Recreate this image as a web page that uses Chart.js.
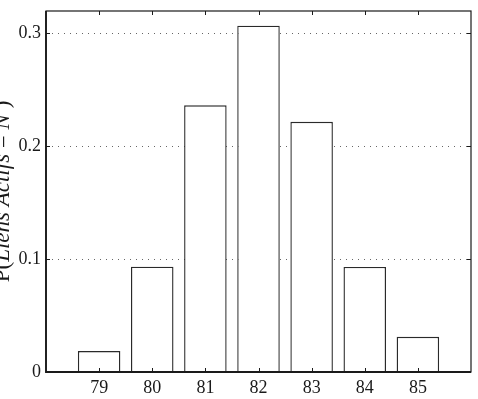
<!DOCTYPE html>
<html>
<head>
<meta charset="utf-8">
<script src="https://cdn.jsdelivr.net/npm/chart.js@4/dist/chart.umd.min.js"></script>
<style>
  html, body { margin: 0; padding: 0; background: #fff; }
  #wrap { width: 478px; height: 399px; position: relative; }
</style>
</head>
<body>
<div id="wrap"><canvas id="c" width="478" height="399"></canvas></div>
<script>
// ---- data ----
const categories = [79, 80, 81, 82, 83, 84, 85];
const probabilities = [0.0186, 0.0932, 0.236, 0.3065, 0.2215, 0.093, 0.0312];
const yTickValues = [0, 0.1, 0.2, 0.3];
const yTickLabels = ['0', '0.1', '0.2', '0.3'];
const xRange = [78, 86];
const yRange = [0, 0.3195];
const yTitleParts = [
  { text: 'P(', italic: false },
  { text: 'Liens Actifs', italic: true },
  { text: ' = ', italic: false },
  { text: 'N', italic: true },
  { text: ' )', italic: false }
];

const FONT = 'Liberation Serif';
const INK = '#1a1a1a';

const framePlugin = {
  id: 'frame',
  afterDraw(chart) {
    const { ctx, chartArea: a, scales } = chart;
    const xs = scales.x, ys = scales.y;
    ctx.save();
    // frame
    ctx.strokeStyle = INK;
    ctx.lineWidth = 1.2;
    ctx.strokeRect(a.left, a.top, a.right - a.left, a.bottom - a.top);
    ctx.lineWidth = 1.8;
    ctx.beginPath();
    ctx.moveTo(a.left, a.top); ctx.lineTo(a.left, a.bottom); ctx.lineTo(a.right, a.bottom);
    ctx.stroke();
    // inward ticks
    const tl = 4;
    ctx.lineWidth = 1;
    ctx.beginPath();
    categories.forEach(c => {
      const px = Math.round(xs.getPixelForValue(c)) + 0.5;
      ctx.moveTo(px, a.bottom); ctx.lineTo(px, a.bottom - tl);
      ctx.moveTo(px, a.top); ctx.lineTo(px, a.top + tl);
    });
    yTickValues.forEach(v => {
      const py = Math.round(ys.getPixelForValue(v)) + 0.5;
      ctx.moveTo(a.left, py); ctx.lineTo(a.left + tl, py);
      ctx.moveTo(a.right, py); ctx.lineTo(a.right - tl, py);
    });
    ctx.stroke();
    // y axis title (mixed italic)
    const size = 23;
    const fontFor = p => (p.italic ? 'italic ' : '') + size + 'px "' + FONT + '"';
    let total = 0;
    yTitleParts.forEach(p => { ctx.font = fontFor(p); total += ctx.measureText(p.text).width; });
    const cy = (a.top + a.bottom) / 2;
    ctx.translate(9, cy);
    ctx.rotate(-Math.PI / 2);
    ctx.fillStyle = INK;
    ctx.textBaseline = 'alphabetic';
    ctx.textAlign = 'left';
    let x = -total / 2;
    yTitleParts.forEach(p => {
      ctx.font = fontFor(p);
      ctx.fillText(p.text, x, 0);
      x += ctx.measureText(p.text).width;
    });
    ctx.restore();
  }
};

new Chart(document.getElementById('c'), {
  type: 'bar',
  data: {
    datasets: [{
      data: categories.map((c, i) => ({ x: c, y: probabilities[i] })),
      backgroundColor: '#ffffff',
      borderColor: '#2a2a2a',
      borderWidth: 1.4,
      borderSkipped: 'start',
      barPercentage: 0.8,
      categoryPercentage: 1.0
    }]
  },
  options: {
    responsive: false,
    animation: false,
    devicePixelRatio: 1,
    layout: { padding: { top: 11, right: 7, left: 0, bottom: 0 } },
    plugins: { legend: { display: false }, tooltip: { enabled: false } },
    scales: {
      x: {
        type: 'linear',
        offset: false,
        min: xRange[0],
        max: xRange[1],
        afterBuildTicks: s => { s.ticks = categories.map(v => ({ value: v })); },
        afterFit: s => { s.height = 27; s.paddingLeft = 0; s.paddingRight = 0; },
        ticks: {
          autoSkip: false,
          maxRotation: 0,
          padding: 5,
          color: INK,
          font: { family: FONT, size: 18 },
          callback: v => String(v)
        },
        grid: { display: false, drawTicks: false },
        border: { display: false }
      },
      y: {
        min: yRange[0],
        max: yRange[1],
        afterBuildTicks: s => { s.ticks = yTickValues.map(v => ({ value: v })); },
        afterFit: s => { s.width = 46; s.paddingTop = 0; s.paddingBottom = 0; },
        ticks: {
          padding: 5,
          color: INK,
          font: { family: FONT, size: 18 },
          callback: (v, i) => yTickLabels[i]
        },
        grid: {
          drawTicks: false,
          lineWidth: 1,
          color: ctx => (ctx.tick && ctx.tick.value === 0) ? 'rgba(0,0,0,0)' : '#666',
          borderDash: [1, 5]
        },
        border: { display: false, dash: [1, 5] }
      }
    }
  },
  plugins: [framePlugin]
});
</script>
</body>
</html>
